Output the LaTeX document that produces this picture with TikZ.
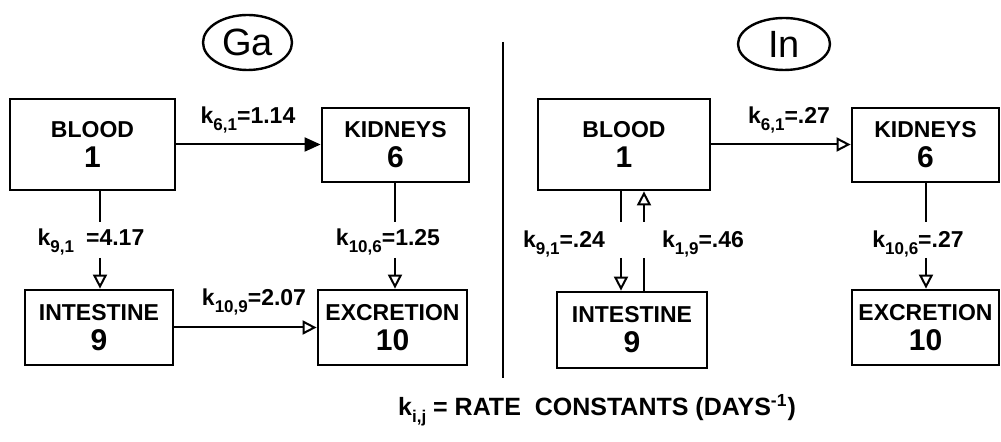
\documentclass[tikz,border=0pt]{standalone}
\usepackage{fontspec}
\setmainfont{Liberation Sans}
\usetikzlibrary{arrows.meta,shapes.geometric}
\newcommand{\rate}[2]{k\raisebox{-3.5pt}{\fontsize{8.5}{8.5}\selectfont #1}#2}
\newcommand{\cnum}[1]{{\fontsize{15}{15}\selectfont #1}}
\begin{document}
\begin{tikzpicture}[x=0.5pt, y=-0.5pt, font=\fontsize{11.5}{15}\selectfont\bfseries,
  box/.style={draw, line width=1.4pt, align=center, inner sep=0pt},
  tag/.style={draw, ellipse, line width=1.2pt, inner sep=0pt, font=\fontsize{19}{19}\selectfont},
  flow/.style={line width=1pt, -{Triangle[open,length=7pt,width=7pt]}},
  link/.style={line width=1pt}]
  \useasboundingbox (0,0) rectangle (1001,442);
  % Ga
  \node[tag, minimum width=44.5pt, minimum height=27.5pt] (gaTag) at (247.5,42.5) {Ga};
  \node[box, minimum width=82.5pt, minimum height=45.5pt] (gaBlood) at (92.5,144.5) {BLOOD\\\cnum{1}};
  \node[box, minimum width=73.5pt, minimum height=37pt] (gaKid) at (395.5,145) {KIDNEYS\\\cnum{6}};
  \node[box, minimum width=74pt, minimum height=37.5pt] (gaInt) at (99,327.5) {INTESTINE\\\cnum{9}};
  \node[box, minimum width=74.5pt, minimum height=37.5pt] (gaExc) at (392.5,327.5) {EXCRETION\\\cnum{10}};
  % In
  \node[tag, minimum width=46pt, minimum height=26pt] (inTag) at (784,44) {In};
  \node[box, minimum width=86pt, minimum height=45.5pt] (inBlood) at (624,144.5) {BLOOD\\\cnum{1}};
  \node[box, minimum width=73.5pt, minimum height=37pt] (inKid) at (925.5,145) {KIDNEYS\\\cnum{6}};
  \node[box, minimum width=75pt, minimum height=38pt] (inInt) at (632,330) {INTESTINE\\\cnum{9}};
  \node[box, minimum width=73.5pt, minimum height=37.5pt] (inExc) at (925.5,327.5) {EXCRETION\\\cnum{10}};
  % horizontal flows
  \draw[flow, -{Triangle[length=8pt,width=7pt]}] (gaBlood.east) -- (gaBlood.east -| gaKid.west);
  \draw[flow] (gaInt.east) -- (gaInt.east -| gaExc.west);
  \draw[flow] (inBlood.east) -- (inBlood.east -| inKid.west);
  % downward flows, broken where the rate stands
  \foreach \src/\dst/\xx in {gaBlood/gaInt/100, gaKid/gaExc/395, inBlood/inInt/621, inKid/inExc/926} {
    \coordinate (\src-a) at (\xx,222);
    \coordinate (\src-b) at (\xx,258);
    \draw[link] (\src.south -| \src-a) -- (\src-a);
    \draw[flow] (\src-b) -- (\src-b |- \dst.north);
  }
  % back flow intestine to blood
  \coordinate (inInt-a) at (644,258);
  \coordinate (inInt-b) at (644,222);
  \draw[link] (inInt.north -| inInt-a) -- (inInt-a);
  \draw[flow] (inInt-b) -- (inInt-b |- inBlood.south);
  % rates
  \node (gaK61) at (248,120) {\rate{6,1}{=1.14}};
  \node (gaK91) at (91,242) {\rate{9,1}{\hspace{6pt}=4.17}};
  \node (gaK106) at (388,242) {\rate{10,6}{=1.25}};
  \node (gaK109) at (254,302) {\rate{10,9}{=2.07}};
  \node (inK61) at (789,120) {\rate{6,1}{=.27}};
  \node (inK91) at (564,244) {\rate{9,1}{=.24}};
  \node (inK19) at (703,244) {\rate{1,9}{=.46}};
  \node (inK106) at (918,244) {\rate{10,6}{=.27}};
  % divider and legend
  \draw[line width=1.4pt] (503,42) -- (503,378);
  \node[font=\fontsize{12.5}{15}\selectfont\bfseries] (legend) at (597,410)
    {\rate{i,j}{ = RATE\ \ CONSTANTS (DAYS\textsuperscript{-1})}};
\end{tikzpicture}
\end{document}
